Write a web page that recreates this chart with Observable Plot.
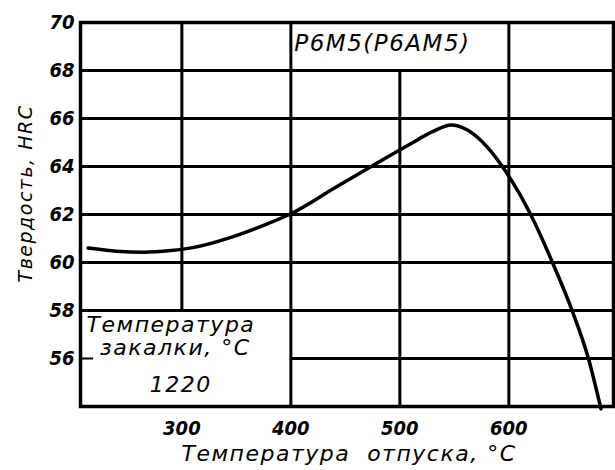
<!DOCTYPE html>
<html>
<head>
<meta charset="utf-8">
<script src="https://cdn.jsdelivr.net/npm/d3@7"></script>
<script src="https://cdn.jsdelivr.net/npm/@observablehq/plot@0.6"></script>
<style>
  html, body { margin: 0; padding: 0; background: #fff; }
  svg { display: block; }
</style>
</head>
<body>
<div id="chart"></div>
<script>
// Tempering temperature, °C
const temperature = [214, 240, 265, 290, 310, 345, 375, 400, 440, 480, 510, 530, 547, 562, 580, 594, 620, 640, 658, 673, 684.5];
// Hardness, HRC
const hardness   = [60.6, 60.47, 60.43, 60.5, 60.62, 61.05, 61.55, 62.03, 63.1, 64.17, 64.95, 65.45, 65.73, 65.52, 64.82, 64.0, 62.0, 60.0, 58.0, 56.0, 53.9];

const xTicks = [300, 400, 500, 600];
const yTicks = [56, 58, 60, 62, 64, 66, 68, 70];
const hGrid = [56, 58, 60, 62, 64, 66, 68];
const vGrid = [300, 400, 500, 600];

const steelLabel = "Р6М5(Р6АМ5)";
const quenchLabel = ["Температура", "закалки, °С", "1220"];
const quenchX = [290, 294, 299];
const quenchY = [57.38, 56.42, 54.88];
const xLabel = "Температура  отпуска, °С";
const yLabel = "Твердость, HRC";

const xDomain = [207, 696];
const yDomain = [54, 70];

const pts = temperature.map((t, i) => ({t, h: hardness[i]}));
const cond = "'DejaVu Sans Condensed', 'DejaVu Sans', sans-serif";
const font = "'DejaVu Sans', sans-serif";

const chart = Plot.plot({
  width: 615,
  height: 470,
  marginLeft: 80,
  marginRight: 2,
  marginTop: 22,
  marginBottom: 64,
  style: {fontFamily: font, background: "#fff", color: "#000"},
  x: {domain: xDomain},
  y: {domain: yDomain},
  marks: [
    // horizontal grid (56 only right of the quench box)
    Plot.ruleY(hGrid, {y: d => d, x1: d => d === 56 ? 400 : xDomain[0], x2: xDomain[1], stroke: "#000", strokeWidth: 3}),
    // short tick stub at 56 inside box
    Plot.ruleY([56], {x1: xDomain[0], x2: 219, stroke: "#000", strokeWidth: 2}),
    // vertical grid (300 above quench box, 500 below title box)
    Plot.ruleX(vGrid, {x: d => d, y1: d => d === 300 ? 58 : yDomain[0], y2: d => d === 500 ? 68 : yDomain[1], stroke: "#000", strokeWidth: 3}),
    Plot.frame({stroke: "#000", strokeWidth: 3.5}),
    Plot.line(pts, {x: "t", y: "h", curve: "monotone-x", stroke: "#000", strokeWidth: 3.5}),
    Plot.axisX({ticks: xTicks, tickSize: 0, tickPadding: 14, label: null, fontSize: 20, fontStyle: "italic", fontWeight: "bold", fontFamily: cond}),
    Plot.axisY({ticks: yTicks, tickSize: 0, tickPadding: 6, label: null, fontSize: 20, fontStyle: "italic", fontWeight: "bold", fontFamily: cond}),
    Plot.text([steelLabel], {x: 484, y: 69.1, fontSize: 23, fontStyle: "italic", fontFamily: font, fill: "#000"}),
    Plot.text(quenchLabel, {x: (d, i) => quenchX[i], y: (d, i) => quenchY[i], fontSize: 22, fontStyle: "italic", fontFamily: font, fill: "#000"}),
    Plot.text([xLabel], {frameAnchor: "bottom", lineAnchor: "middle", dy: 47, dx: 2, fontSize: 22, fontStyle: "italic", fontFamily: font, fill: "#000"}),
    Plot.text([yLabel], {frameAnchor: "left", textAnchor: "middle", rotate: -90, dx: -55, dy: -21, fontSize: 19, fontStyle: "italic", fontFamily: font, fill: "#000"})
  ]
});
d3.select(chart).selectAll("g[aria-label='text'] text").style("letter-spacing", "1.5px");
document.getElementById("chart").appendChild(chart);
</script>
</body>
</html>
